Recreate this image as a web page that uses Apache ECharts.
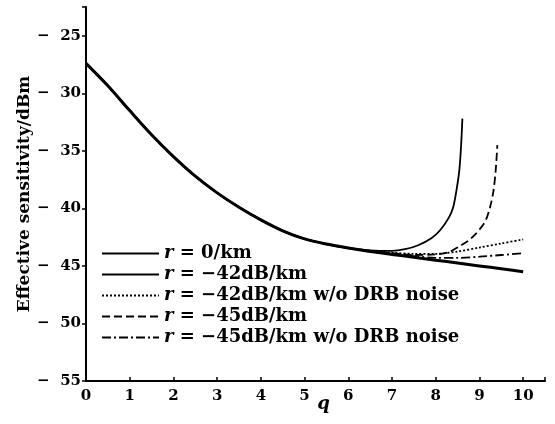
<!DOCTYPE html>
<html><head><meta charset="utf-8">
<script src="https://cdn.jsdelivr.net/npm/echarts@6/dist/echarts.min.js"></script>
<style>html,body{margin:0;padding:0;background:#fff}#c{width:555px;height:424px}</style>
</head><body><div id="c"></div>
<script>
// Shared part of all curves (q from 0 to 6)
const qCommon = [0, 0.5, 1, 1.5, 2, 2.5, 3, 3.5, 4, 4.5, 5, 5.5, 6];
const vCommon = [-27.4, -29.35, -31.5, -33.6, -35.5, -37.2, -38.65, -39.9, -41.0, -41.95, -42.65, -43.1, -43.45];

// Tails of each curve (q > 6)
const q_r0 = [6.5, 7, 7.5, 8, 8.5, 9, 9.5, 10];
const v_r0 = [-43.75, -44.0, -44.25, -44.5, -44.75, -45.0, -45.25, -45.5];

const q_r42 = [6.5, 7, 7.3, 7.6, 7.9, 8.1, 8.3, 8.4, 8.48, 8.54, 8.58, 8.61];
const v_r42 = [-43.65, -43.7, -43.55, -43.2, -42.6, -41.9, -40.8, -39.9, -38.3, -36.7, -34.6, -32.2];

const q_r42n = [6.5, 7, 7.5, 8, 8.5, 9, 9.5, 10];
const v_r42n = [-43.7, -43.85, -43.95, -43.95, -43.75, -43.4, -43.05, -42.7];

const q_r45 = [6.5, 7, 7.5, 8, 8.3, 8.54, 8.75, 8.92, 9.05, 9.15, 9.25, 9.32, 9.37, 9.41];
const v_r45 = [-43.7, -43.9, -44.05, -44.0, -43.8, -43.3, -42.8, -42.2, -41.6, -41.0, -39.8, -38.5, -36.8, -34.5];

const q_r45n = [6.5, 7, 7.5, 8, 8.5, 9, 9.5, 10];
const v_r45n = [-43.75, -43.95, -44.15, -44.3, -44.3, -44.2, -44.05, -43.9];

const names = ['r = 0/km', 'r = −42dB/km', 'r = −42dB/km w/o DRB noise', 'r = −45dB/km', 'r = −45dB/km w/o DRB noise'];
const xTicks = [0, 1, 2, 3, 4, 5, 6, 7, 8, 9, 10];
const yTicks = [-55, -50, -45, -40, -35, -30, -25];

function pts(qt, vt) {
  const q = qCommon.concat(qt), v = vCommon.concat(vt);
  return q.map((x, i) => [x, v[i]]);
}
const FONT = '"DejaVu Serif", "Liberation Serif", serif';

const tails = [[q_r0, v_r0], [q_r42, v_r42], [q_r42n, v_r42n], [q_r45, v_r45], [q_r45n, v_r45n]];
const styles = [
  {width: 3, type: 'solid'},
  {width: 1.8, type: 'solid'},
  {width: 1.8, type: [2, 2]},
  {width: 1.8, type: [8, 4]},
  {width: 1.8, type: [9, 3, 2, 3]}
];

const chart = echarts.init(document.getElementById('c'), null, {renderer: 'canvas'});
chart.setOption({
  animation: false,
  backgroundColor: '#fff',
  grid: {left: 86, right: 10, top: 7, bottom: 43, containLabel: false, outerBoundsMode: 'none'},
  legend: {
    orient: 'vertical', left: 101, top: 243, padding: 0, itemWidth: 57, itemHeight: 10, itemGap: 0,
    data: names,
    itemStyle: {opacity: 0},
    formatter: n => '{i|r}' + n.slice(1),
    textStyle: {fontFamily: FONT, fontSize: 18, lineHeight: 21, fontWeight: 'bold', color: '#000',
      rich: {i: {fontFamily: FONT, fontSize: 18, lineHeight: 21, fontStyle: 'italic', fontWeight: 'bold', color: '#000'}}}
  },
  xAxis: {
    type: 'value', min: 0, max: 10.5, interval: 1,
    name: 'q', nameLocation: 'middle', nameGap: 14, nameMoveOverlap: false,
    nameTextStyle: {fontFamily: FONT, fontSize: 18, fontStyle: 'italic', fontWeight: 'bold', color: '#000', padding: [0, 0, 0, 16]},
    axisLine: {show: true, lineStyle: {color: '#000', width: 2}},
    axisTick: {show: true, inside: true, length: 4, lineStyle: {color: '#000', width: 1.5}},
    axisLabel: {fontFamily: FONT, fontSize: 15, fontWeight: 'bold', color: '#000', margin: 8,
      formatter: v => xTicks.indexOf(v) >= 0 ? String(v) : ''},
    splitLine: {show: false}
  },
  yAxis: {
    type: 'value', min: -55, max: -22.5, interval: 5,
    name: 'Effective sensitivity/dBm', nameLocation: 'middle', nameGap: 53, nameRotate: 90, nameMoveOverlap: false,
    nameTextStyle: {fontFamily: FONT, fontSize: 17, fontWeight: 'bold', color: '#000'},
    axisLine: {show: true, lineStyle: {color: '#000', width: 2}},
    axisTick: {show: true, inside: false, length: 4, lineStyle: {color: '#000', width: 1.5}},
    axisLabel: {fontFamily: FONT, fontSize: 15, fontWeight: 'bold', color: '#000', margin: 5,
      formatter: v => yTicks.indexOf(v) >= 0 ? '−  ' + String(Math.abs(v)) : ''},
    splitLine: {show: false}
  },
  series: names.map((n, i) => ({
    name: n, type: 'line', symbol: 'none', smooth: 0.3,
    data: pts(tails[i][0], tails[i][1]),
    lineStyle: {color: '#000', width: styles[i].width, type: styles[i].type},
    itemStyle: {color: '#000'},
    z: i === 0 ? 3 : 2
  }))
});
</script></body></html>
